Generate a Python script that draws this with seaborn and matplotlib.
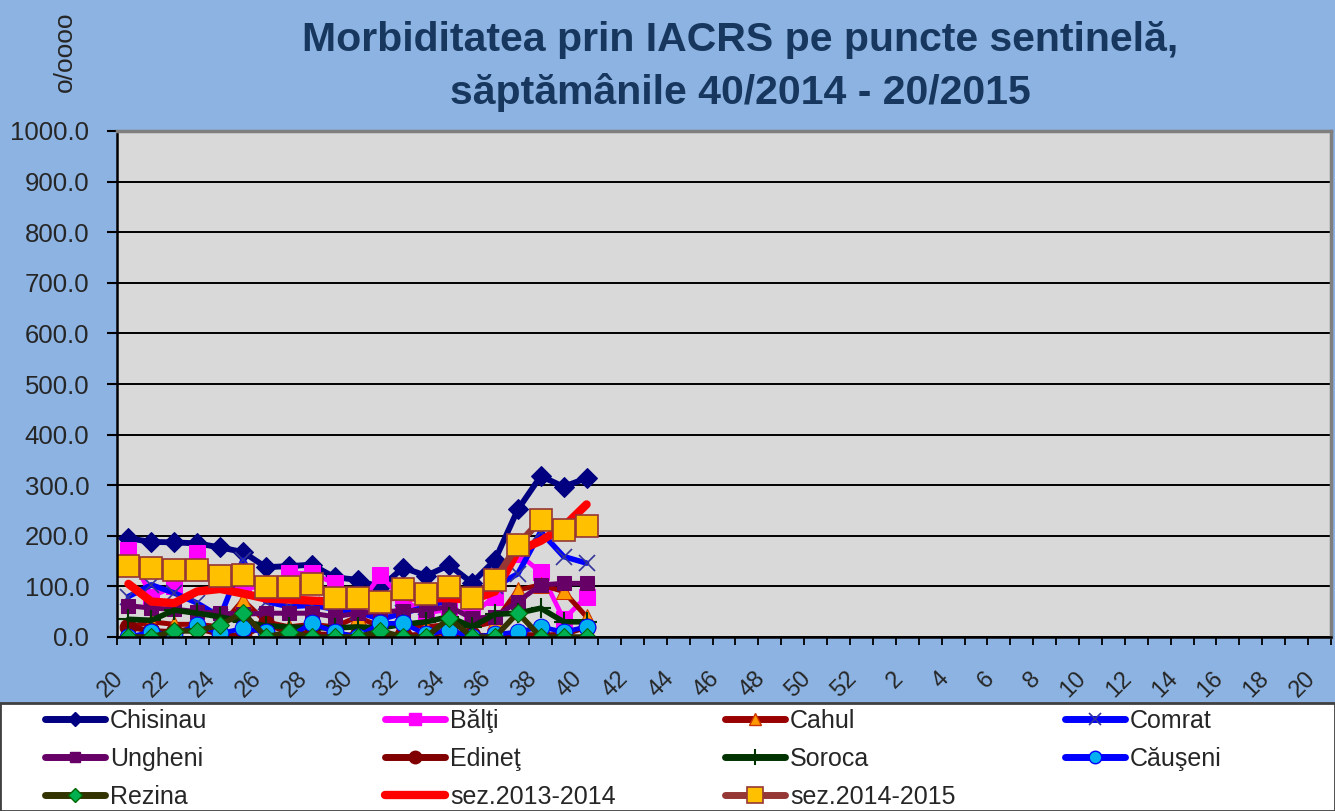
import numpy as np
import pandas as pd
import matplotlib
matplotlib.use('Agg')
import matplotlib.pyplot as plt
import seaborn as sns
from matplotlib.patches import Rectangle
from matplotlib.lines import Line2D

# ---- data ----
weeks = [str(w) for w in list(range(20, 53)) + list(range(1, 21))]
n_data = 21  # weeks 20..40 of 2014

chisinau = [195, 188, 187, 185, 177, 168, 138, 140, 143, 118, 113, 98, 137, 121, 142, 107, 152, 252, 318, 297, 314]
balti = [172, 80, 100, 166, 110, 100, 95, 126, 126, 106, 60, 122, 73, 47, 55, 45, 80, 165, 128, 35, 80]
cahul = [20, 30, 25, 25, 20, 73, 30, 20, 25, 20, 40, 20, 25, 20, 25, 20, 30, 93, 103, 90, 40]
comrat = [80, 103, 87, 67, 40, 152, 70, 60, 63, 55, 50, 35, 47, 60, 73, 80, 100, 125, 208, 159, 146]
ungheni = [62, 57, 55, 50, 47, 45, 47, 47, 47, 40, 47, 50, 52, 53, 60, 37, 40, 70, 103, 106, 106]
edinet = [20, 12, 10, 18, 5, 2, 25, 10, 5, 5, 3, 2, 3, 5, 10, 3, 2, 5, 3, 5, 20]
soroca = [35, 33, 53, 47, 40, 30, 22, 20, 18, 18, 20, 18, 25, 30, 40, 20, 45, 47, 57, 30, 30]
causeni = [0, 10, 4, 24, 7, 17, 10, 0, 27, 10, 0, 27, 27, 5, 14, 0, 5, 10, 20, 10, 20]
rezina = [0, 0, 12, 12, 24, 48, 0, 10, 0, 0, 0, 12, 0, 0, 37, 0, 0, 48, 0, 0, 0]
sez_2013_2014 = [105, 70, 67, 90, 95, 86, 76, 74, 72, 70, 75, 78, 80, 76, 77, 73, 90, 170, 190, 218, 262]
sez_2014_2015 = [140, 136, 132, 132, 121, 123, 98, 99, 104, 78, 78, 69, 95, 85, 99, 78, 113, 182, 231, 211, 220]

series_names = ['Chisinau', 'Bălţi', 'Cahul', 'Comrat', 'Ungheni', 'Edineţ',
                'Soroca', 'Căuşeni', 'Rezina', 'sez.2013-2014', 'sez.2014-2015']
series_values = [chisinau, balti, cahul, comrat, ungheni, edinet,
                 soroca, causeni, rezina, sez_2013_2014, sez_2014_2015]

styles = {
    'Chisinau': dict(color='#000080', marker='D', markersize=10, markerfacecolor='#000080', markeredgecolor='#000080', linewidth=4.2),
    'Bălţi': dict(color='#FF00FF', marker='s', markersize=11, markerfacecolor='#FF00FF', markeredgecolor='#FF00FF', linewidth=3.4),
    'Cahul': dict(color='#990000', marker='^', markersize=12, markerfacecolor='#FF9900', markeredgecolor='#CC3300', linewidth=3.6),
    'Comrat': dict(color='#0000FF', marker='x', markersize=11, markerfacecolor='#0000FF', markeredgecolor='#333399', markeredgewidth=1.2, linewidth=4.0),
    'Ungheni': dict(color='#660066', marker='s', markersize=10, markerfacecolor='#660066', markeredgecolor='#660066', linewidth=3.6),
    'Edineţ': dict(color='#800000', marker='o', markersize=12, markerfacecolor='#800000', markeredgecolor='#800000', linewidth=4.0),
    'Soroca': dict(color='#003300', marker='+', markersize=15, markerfacecolor='#003300', markeredgecolor='#003300', markeredgewidth=1.5, linewidth=4.0),
    'Căuşeni': dict(color='#0000FF', marker='o', markersize=12, markerfacecolor='#00B0F0', markeredgecolor='#0000FF', linewidth=3.4),
    'Rezina': dict(color='#333300', marker='D', markersize=9, markerfacecolor='#00B050', markeredgecolor='#006600', linewidth=4.0),
    'sez.2013-2014': dict(color='#FF0000', marker='', linewidth=6.0),
    'sez.2014-2015': dict(color='#953735', marker='s', markersize=16, markerfacecolor='#FFC000', markeredgecolor='#953735', markeredgewidth=1.2, linewidth=5.0),
}

sns.set_theme(style='white')
plt.rcParams['font.family'] = ['Liberation Sans', 'DejaVu Sans']

W, H = 1335, 811
fig = plt.figure(figsize=(W / 100, H / 100), dpi=100, facecolor='#8DB3E2')

# white legend band
fig.patches.append(Rectangle((0, 0), 1, (H - 703) / H, transform=fig.transFigure,
                             facecolor='white', edgecolor='#404040', linewidth=2, zorder=0))

ax = fig.add_axes([117 / W, 1 - 637 / H, (1331 - 117) / W, (637 - 131) / H])
ax.set_facecolor('#D9D9D9')

x_pos = np.arange(n_data)
for name, vals in zip(series_names, series_values):
    df = pd.DataFrame({'x': x_pos, 'y': vals})
    sns.lineplot(data=df, x='x', y='y', ax=ax, legend=False, solid_joinstyle='round',
                 solid_capstyle='round', **styles[name])

ax.set_xlim(-0.5, len(weeks) - 0.5)
ax.set_ylim(0, 1000)
ax.set_yticks(np.arange(0, 1001, 100))
ax.set_yticklabels([f'{v:.1f}' for v in np.arange(0, 1001, 100)], fontsize=18.5)
ax.yaxis.grid(True, color='black', linewidth=1.4)
ax.xaxis.grid(False)
ax.set_axisbelow(True)

ax.set_xticks(np.arange(0, len(weeks), 2))
ax.set_xticklabels(weeks[::2], rotation=45, ha='right', va='top', fontsize=17)
ax.set_xticks(np.arange(-0.5, len(weeks), 1), minor=True)
ax.tick_params(axis='x', which='major', length=0, pad=22)
ax.tick_params(axis='x', which='minor', length=6, width=1.3, color='black', direction='out', bottom=True)
ax.tick_params(axis='y', which='major', length=7, width=1.5, color='black', direction='out', left=True, pad=13)
ax.set_xlabel('')
ax.set_ylabel('')

for s in ['top', 'right']:
    ax.spines[s].set_color('#7F7F7F')
    ax.spines[s].set_linewidth(2.5)
for s in ['left', 'bottom']:
    ax.spines[s].set_color('black')
    ax.spines[s].set_linewidth(1.8)

# titles
title_color = '#17375E'
fig.text(740 / W, 1 - 40 / H, 'Morbiditatea prin IACRS pe puncte sentinelă,',
         ha='center', va='center', fontsize=29.5, fontweight='bold', color=title_color)
fig.text(740 / W, 1 - 93 / H, 'săptămânile 40/2014 - 20/2015',
         ha='center', va='center', fontsize=29.5, fontweight='bold', color=title_color)
fig.text(65 / W, 1 - 52 / H, 'o/oooo', rotation=90, ha='center', va='center', fontsize=19)

# legend in 4 columns
def handle(name):
    st = dict(styles[name])
    if st.get('markersize'):
        st['markersize'] = st['markersize'] * 0.75
    st['linewidth'] = max(st['linewidth'], 5.0)
    return Line2D([], [], **st)

cols = [['Chisinau', 'Ungheni', 'Rezina'],
        ['Bălţi', 'Edineţ', 'sez.2013-2014'],
        ['Cahul', 'Soroca', 'sez.2014-2015'],
        ['Comrat', 'Căuşeni']]
col_x = [45, 385, 725, 1065]
for cx, names in zip(col_x, cols):
    fig.legend([handle(n) for n in names], names, loc='upper left',
               bbox_to_anchor=(cx / W, 1 - 709 / H), frameon=False, fontsize=18,
               handlelength=2.4, handletextpad=0.2, labelspacing=0.55,
               borderaxespad=0, borderpad=0)

fig.savefig('out.png', dpi=100, facecolor=fig.get_facecolor())
